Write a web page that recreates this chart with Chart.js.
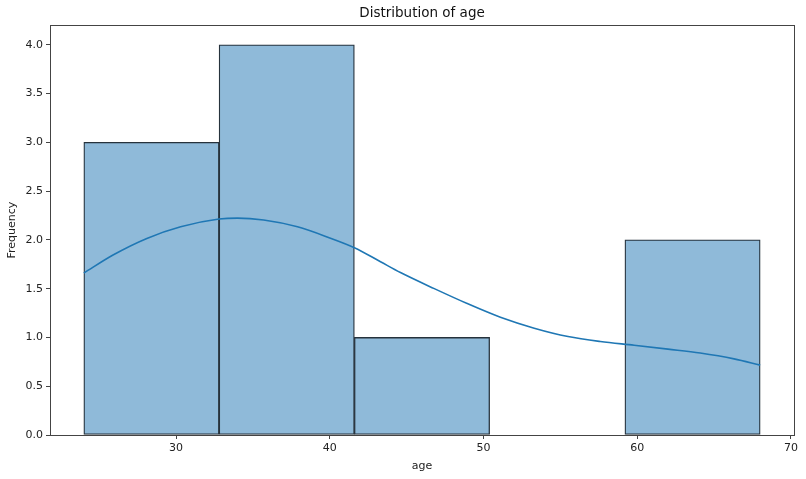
<!DOCTYPE html>
<html lang="en">
<head>
    <meta charset="UTF-8">
    <title>Distribution of age</title>
    <script src="https://cdn.jsdelivr.net/npm/chart.js"></script>
    <style>
        html, body {
            margin: 0;
            padding: 0;
            background: #fff;
        }
        #wrap {
            width: 806px;
            height: 479px;
        }
    </style>
</head>
<body>
<div id="wrap"><canvas id="histChart" width="806" height="479"></canvas></div>
<script>
    // histogram bins (left edges) and counts
    const binEdges = [24, 32.8, 41.6, 50.4, 59.2, 68];
    const counts = [3, 4, 1, 0, 2];

    // KDE curve
    const kdeAge = [24, 25.9, 28.1, 30.3, 32.8, 34.0, 35.7, 37.9, 40.0, 41.6, 43.3, 44.6, 46.8, 48.9, 51.1, 53.3, 55.5, 57.6, 59.8, 62.0, 64.1, 66.3, 68];
    const kdeFreq = [1.66, 1.845, 2.015, 2.134, 2.213, 2.223, 2.203, 2.134, 2.02, 1.92, 1.776, 1.665, 1.50, 1.35, 1.207, 1.095, 1.009, 0.958, 0.92, 0.88, 0.84, 0.78, 0.716];

    const xTicks = [30, 40, 50, 60, 70];
    const yTicks = [0, 0.5, 1, 1.5, 2, 2.5, 3, 3.5, 4];

    const barPoints = counts.map((c, i) => ({ x: (binEdges[i] + binEdges[i + 1]) / 2, y: c }));
    const kdePoints = kdeAge.map((a, i) => ({ x: a, y: kdeFreq[i] }));

    const font = 'DejaVu Sans';

    // top and right spines
    const frame = {
        id: 'frame',
        afterDraw(chart) {
            const { ctx, chartArea: a } = chart;
            ctx.save();
            ctx.strokeStyle = '#444';
            ctx.lineWidth = 1;
            ctx.strokeRect(Math.round(a.left) + 0.5, Math.round(a.top) + 0.5, Math.round(a.right - a.left), Math.round(a.bottom - a.top));
            ctx.restore();
        }
    };

    new Chart(document.getElementById('histChart'), {
        data: {
            datasets: [
                {
                    type: 'line',
                    data: kdePoints,
                    borderColor: '#1f77b4',
                    borderWidth: 1.6,
                    pointRadius: 0,
                    cubicInterpolationMode: 'monotone',
                    fill: false,
                    order: 0
                },
                {
                    type: 'bar',
                    data: barPoints,
                    backgroundColor: '#8fbad9',
                    borderColor: '#26323c',
                    borderWidth: 1.3,
                    borderSkipped: false,
                    barPercentage: 1,
                    categoryPercentage: 1,
                    order: 1
                }
            ]
        },
        options: {
            responsive: false,
            animation: false,
            layout: { padding: { right: 12 } },
            plugins: {
                legend: { display: false },
                tooltip: { enabled: false },
                title: {
                    display: true,
                    fullSize: false,
                    text: 'Distribution of age',
                    color: '#111',
                    font: { family: font, size: 13.5, weight: 'normal' },
                    padding: { top: 5, bottom: 4 }
                }
            },
            scales: {
                x: {
                    type: 'linear',
                    min: 21.8,
                    max: 70.2,
                    offset: false,
                    afterBuildTicks: s => { s.ticks = xTicks.map(v => ({ value: v })); },
                    afterFit: s => { s.height = 44; },
                    grid: { display: true, offset: false, drawOnChartArea: false, drawTicks: true, tickLength: 4, color: '#444' },
                    border: { display: true, color: '#444', width: 1 },
                    ticks: { color: '#222', padding: 3, font: { family: font, size: 11 } },
                    title: { display: true, text: 'age', color: '#222', font: { family: font, size: 11 }, padding: { top: 0, bottom: 6 } }
                },
                y: {
                    min: 0,
                    max: 4.2,
                    afterBuildTicks: s => { s.ticks = yTicks.map(v => ({ value: v })); },
                    afterFit: s => { s.width = 50; },
                    grid: { display: true, drawOnChartArea: false, drawTicks: true, tickLength: 4, color: '#444' },
                    border: { display: true, color: '#444', width: 1 },
                    ticks: { color: '#222', padding: 3, font: { family: font, size: 11 }, callback: v => v.toFixed(1) },
                    title: { display: true, text: 'Frequency', color: '#222', font: { family: font, size: 11 }, padding: { top: 6, bottom: 0 } }
                }
            }
        },
        plugins: [frame]
    });
</script>
</body>
</html>
